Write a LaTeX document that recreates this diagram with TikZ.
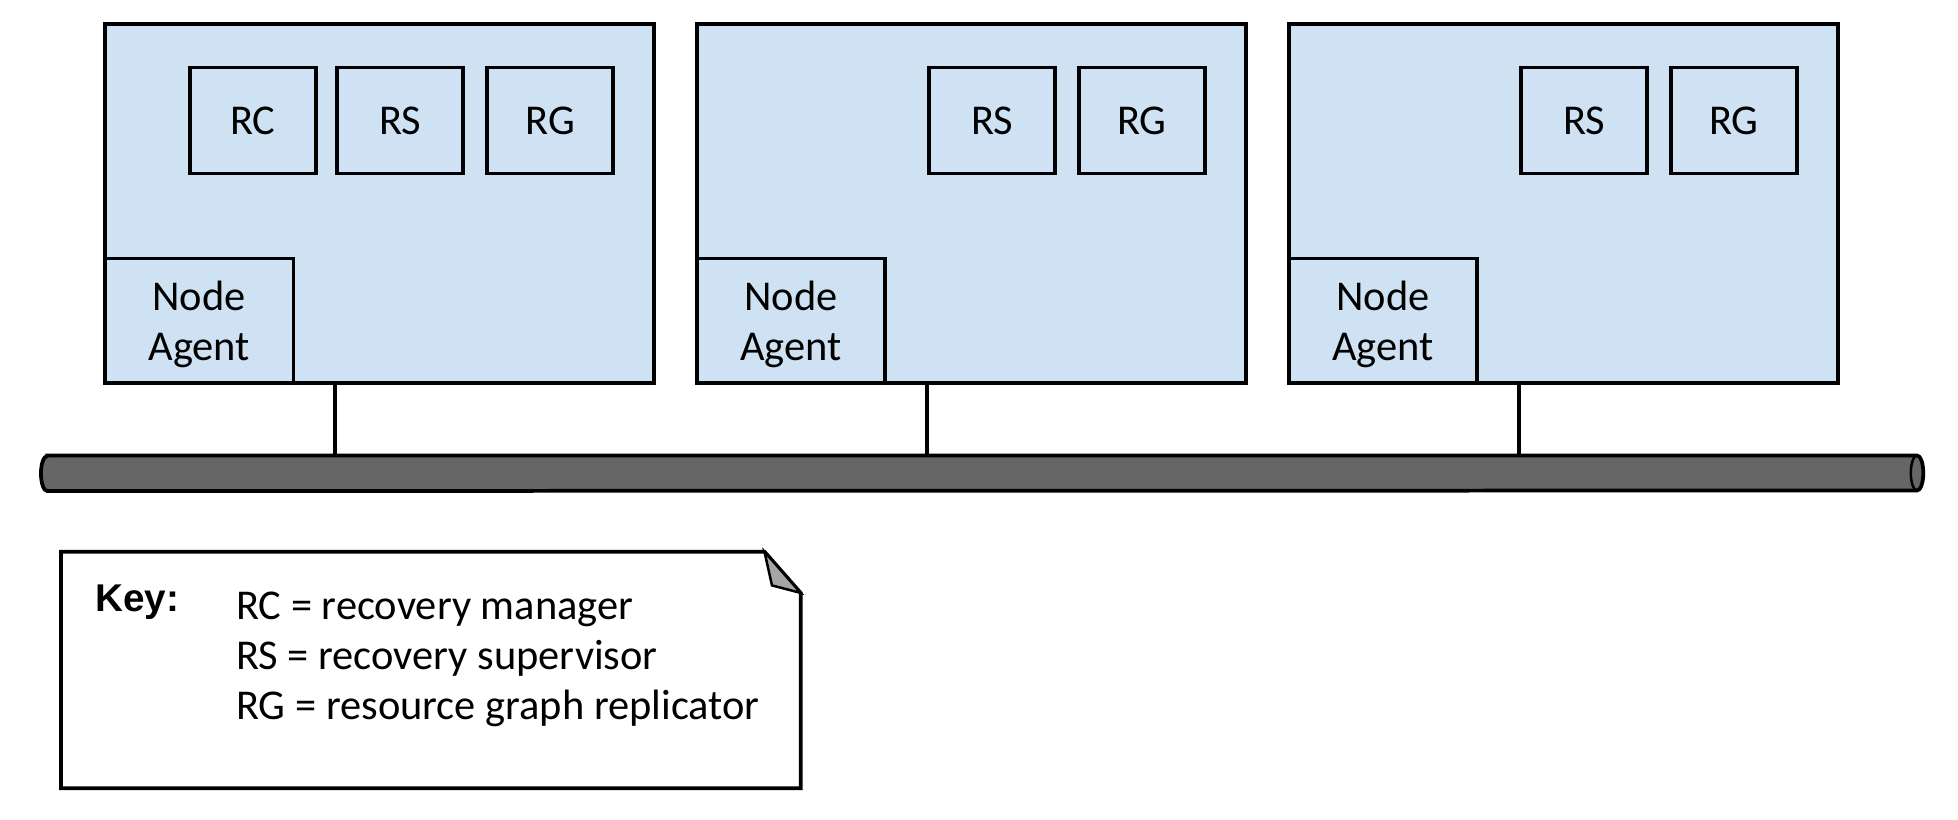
\documentclass[tikz,border=0pt]{standalone}
\usepackage{fontspec}
\setmainfont{Carlito}
\newfontfamily\keyfont{Liberation Sans}
\usepackage{xcolor}
\usepackage{tikz}
\usetikzlibrary{positioning}

\definecolor{nodeblue}{HTML}{CFE2F3}
\definecolor{busgray}{HTML}{666666}

\begin{document}
\begin{tikzpicture}[
    x=1pt, y=-1pt,
    every node/.style={font=\fontsize{34pt}{40pt}\selectfont, inner sep=0pt},
    host/.style={draw, fill=nodeblue, line width=3pt, minimum width=440pt, minimum height=288pt},
    comp/.style={draw, fill=nodeblue, line width=3pt, minimum width=101pt, minimum height=85pt},
    agent/.style={draw, fill=nodeblue, line width=3pt, minimum width=151pt, minimum height=100pt,
                  align=center, text depth=0pt},
    wire/.style={line width=3pt}
]
\tikzset{
    keytext/.style={font=\fontsize{34pt}{40pt}\selectfont, anchor=base west}
}
\useasboundingbox (0,0) rectangle (1568,656);

% barramento
\node[minimum width=1507pt, minimum height=28pt] (bus) at (786.5,379) {};
\draw[wire, fill=busgray] ([xshift=5pt]bus.north west) -- ([xshift=-5pt]bus.north east)
  arc[start angle=-90, end angle=90, x radius=5, y radius=14]
  -- ([xshift=5pt]bus.south west)
  arc[start angle=90, end angle=270, x radius=5, y radius=14] -- cycle;
\draw[line width=2pt] ([xshift=-5pt]bus.north east)
  arc[start angle=-90, end angle=-270, x radius=5, y radius=14];

% os tres nos
\foreach \i/\x in {1/304, 2/778, 3/1252} {
  \node[host] (host\i) at (\x,163) {};
  \node[agent, anchor=south west] (agent\i) at (host\i.south west) {Node\\Agent};
  \node[comp, anchor=north east] (rg\i) at ([xshift=-33pt, yshift=-35pt]host\i.north east) {RG};
  \node[comp, left=16pt of rg\i] (rs\i) {RS};
  \draw[wire] (rs\i.west |- host\i.south) -- (rs\i.west |- bus.north);
}
\node[comp, left=14pt of rs1] (rc1) {RC};

% legenda
\node[minimum width=592pt, minimum height=189pt] (key) at (345,536.5) {};
\draw[line width=3pt] (key.north west) -- ([xshift=-29pt]key.north east)
  -- ([yshift=-33pt]key.north east) -- (key.south east) -- (key.south west) -- cycle;
\fill[gray!70, draw=black, line width=2pt] ([xshift=-29pt]key.north east)
  -- ([yshift=-33pt]key.north east) -- ([xshift=-23pt, yshift=-27pt]key.north east) -- cycle;
\node[anchor=base west, font=\keyfont\bfseries\fontsize{31pt}{37pt}\selectfont] (keylabel)
  at (76,490) {Key:};
\node[keytext] (keyrc) at (189,496) {RC = recovery manager};
\node[keytext] (keyrs) at (189,536) {RS = recovery supervisor};
\node[keytext] (keyrg) at (189,576) {RG = resource graph replicator};
\end{tikzpicture}
\end{document}
